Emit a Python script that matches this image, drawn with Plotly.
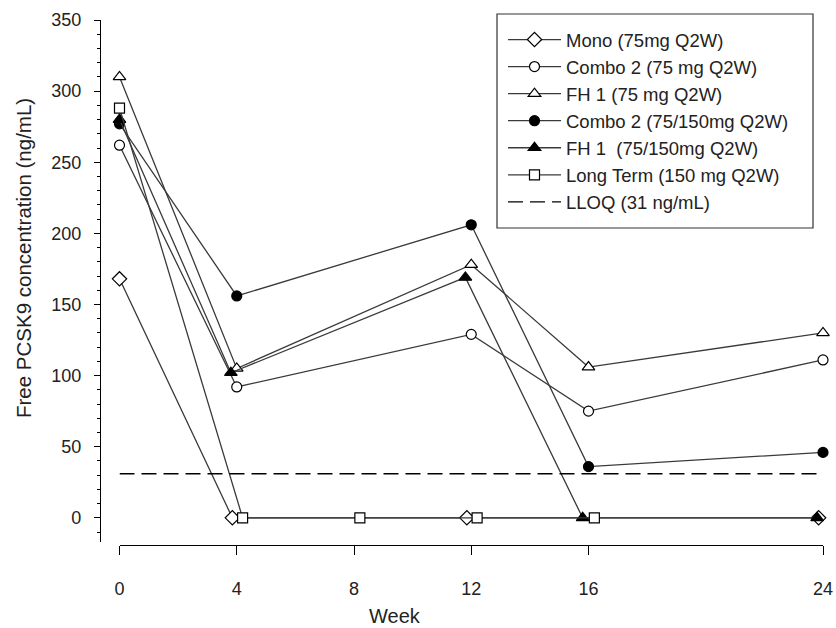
import plotly.graph_objects as go

# Free PCSK9 concentration by study arm (ng/mL) at each visit week
tick_weeks = [0, 4, 8, 12, 16, 24]

mono_weeks = [0, 4, 12, 24]
mono_vals = [168, 0, 0, 0]

combo75_weeks = [0, 4, 12, 16, 24]
combo75_vals = [262, 92, 129, 75, 111]

fh75_weeks = [0, 4, 12, 16, 24]
fh75_vals = [310, 105, 178, 106, 130]

combo150_weeks = [0, 4, 12, 16, 24]
combo150_vals = [277, 156, 206, 36, 46]

fh150_weeks = [0, 4, 12, 16, 24]
fh150_vals = [280, 102, 169, 0, 0]

long_weeks = [0, 4, 8, 12, 16]
long_vals = [288, 0, 0, 0, 0]

lloq_weeks = [0, 24]
lloq_value = 31

W, H = 836, 628
FONT = "Arial, Liberation Sans, sans-serif"
INK = "#222222"
LINE = "#3a3a3a"


def px_x(p):
    return p / W


def px_y(p):
    return 1 - p / H


def shifted(weeks, dodge):
    # small horizontal dodge after baseline so overlapping arms stay visible
    return [w + dodge if w > 0 else w for w in weeks]


series = [
    ("Mono (75mg Q2W)", mono_weeks, mono_vals, "diamond", False, -0.15, 11),
    ("Combo 2 (75 mg Q2W)", combo75_weeks, combo75_vals, "circle", False, 0.0, 10),
    ("FH 1 (75 mg Q2W)", fh75_weeks, fh75_vals, "triangle-up", False, 0.0, 11),
    ("Combo 2 (75/150mg Q2W)", combo150_weeks, combo150_vals, "circle", True, 0.0, 10),
    ("FH 1  (75/150mg Q2W)", fh150_weeks, fh150_vals, "triangle-up", True, -0.2, 11),
    ("Long Term (150 mg Q2W)", long_weeks, long_vals, "square", False, 0.2, 10),
]

fig = go.Figure()
for i, (name, wk, vals, sym, filled, dodge, size) in enumerate(series):
    fig.add_trace(go.Scatter(
        x=shifted(wk, dodge), y=vals, name=name, mode="lines+markers",
        legendgroup=f"g{i}",
        line=dict(color=LINE, width=1.3),
        marker=dict(symbol=sym, size=size, color="black" if filled else "white",
                    line=dict(color="black", width=1.2)),
        cliponaxis=False,
    ))

fig.add_trace(go.Scatter(
    x=lloq_weeks, y=[lloq_value] * len(lloq_weeks), name="LLOQ (31 ng/mL)",
    mode="lines", legendgroup="g_lloq",
    line=dict(color="black", width=1.3, dash="15px,7px"),
))

fig.update_layout(
    width=W, height=H,
    margin=dict(l=0, r=0, t=0, b=0, autoexpand=False),
    paper_bgcolor="white", plot_bgcolor="white",
    font=dict(family=FONT, color=INK, size=18),
    showlegend=True,
    legend=dict(
        x=px_x(503), y=px_y(21), xanchor="left", yanchor="top",
        borderwidth=0, bgcolor="rgba(0,0,0,0)",
        font=dict(family=FONT, size=18.5, color=INK),
        tracegroupgap=0, itemwidth=53,
    ),
    # frame around the legend
    shapes=[dict(type="rect", xref="paper", yref="paper",
                 x0=px_x(497), x1=px_x(813), y0=px_y(228), y1=px_y(14),
                 line=dict(color="#333333", width=1.2), fillcolor="rgba(0,0,0,0)",
                 layer="above")],
    xaxis=dict(
        domain=[px_x(119.5), px_x(823)], range=[0, 24],
        anchor="free", position=px_y(545), automargin=False,
        showline=True, linecolor="black", linewidth=1.3,
        tickmode="array", tickvals=tick_weeks, ticktext=[str(t) for t in tick_weeks],
        ticks="outside", ticklen=9, tickcolor="black", tickwidth=1.3,
        ticklabelstandoff=18, showgrid=False, zeroline=False,
        tickfont=dict(size=18),
    ),
    yaxis=dict(
        domain=[px_y(542), px_y(20)], range=[-17, 350],
        anchor="free", position=px_x(100), automargin=False,
        showline=True, linecolor="black", linewidth=1.3,
        tickmode="linear", tick0=0, dtick=50,
        ticks="outside", ticklen=6, tickcolor="black", tickwidth=1.3,
        minor=dict(dtick=10, tick0=0, ticks="outside", ticklen=3, tickcolor="black", tickwidth=1),
        ticklabelstandoff=9, showgrid=False, zeroline=False,
        tickfont=dict(size=18),
    ),
    annotations=[
        dict(text="Free PCSK9 concentration (ng/mL)", xref="paper", yref="paper",
             x=px_x(23), y=px_y(258), textangle=-90, showarrow=False,
             xanchor="center", yanchor="middle", font=dict(size=20.5, family=FONT, color=INK)),
        dict(text="Week", xref="paper", yref="paper",
             x=px_x(395), y=px_y(616), showarrow=False,
             xanchor="center", yanchor="middle", font=dict(size=20, family=FONT, color=INK)),
    ],
)

fig.write_html("out.html")
